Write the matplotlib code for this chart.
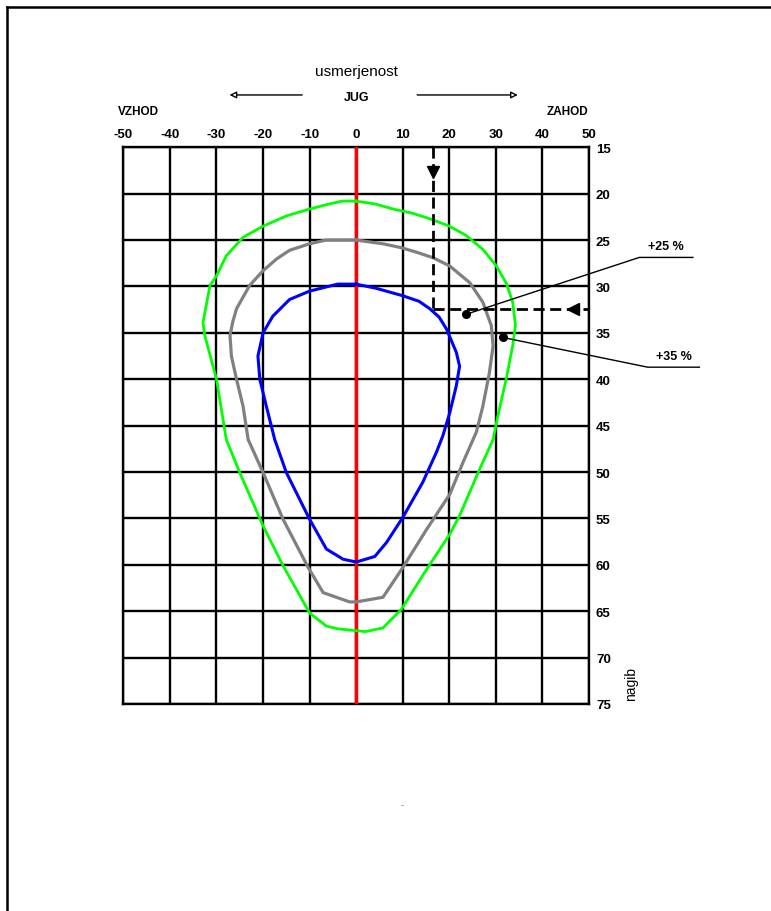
import matplotlib
matplotlib.use("Agg")
import matplotlib.pyplot as plt
from matplotlib.lines import Line2D

plt.rcParams['font.family'] = ['Liberation Sans', 'DejaVu Sans']
plt.rcParams['axes.unicode_minus'] = False

# usmerjenost (x) in nagib (y), odcitano s slike
x_ticks = [-50, -40, -30, -20, -10, 0, 10, 20, 30, 40, 50]
y_ticks = [15, 20, 25, 30, 35, 40, 45, 50, 55, 60, 65, 70, 75]

# zelena krivulja
green_x = [0, 4, 7.9, 12, 15.8, 20, 23.6, 27.2, 30.1, 32.2, 33.6, 34.2, 33.6, 32.2, 30.4, 29.4,
           26.5, 22.2, 20.1, 15.1, 9.7, 5.75, 2, 0, -4, -6.4, -10, -15.7, -20, -25, -27.9,
           -30, -32.5, -32.9, -31.4, -30, -27.9, -24.3, -20, -15, -10, -5.7, -3, 0]
green_y = [20.8, 21.1, 21.65, 22.1, 22.7, 23.5, 24.5, 26.0, 27.8, 29.6, 31.7, 34.2, 36.4, 40, 44, 46.5,
           49.7, 54.7, 56.7, 60.5, 64.8, 66.8, 67.2, 67.1, 66.9, 66.6, 65.2, 60.1, 55.8, 50.06, 46.5,
           40, 35.3, 33.9, 29.9, 28.85, 26.7, 24.7, 23.5, 22.4, 21.65, 21.1, 20.8, 20.8]

# siva krivulja
gray_x = [0, 5.75, 9.5, 12.9, 16.5, 20.1, 24.4, 27.2, 29, 29.4, 28.6, 27.2, 25.8, 22.9, 20.1, 15.1,
          10, 5.75, 0, -1.4, -7.1, -10.3, -15.7, -20, -23.2, -24.3, -25.7, -26.8, -27.1,
          -26.5, -25.7, -22.9, -20, -17, -14.3, -10, -6.5, 0]
gray_y = [25.0, 25.4, 25.8, 26.3, 26.9, 27.8, 29.6, 31.7, 34.2, 36.4, 39.3, 42.9, 45.7, 49.0, 52.4, 56.2,
          60.3, 63.5, 64.0, 64.0, 63.0, 60.3, 55.1, 50.06, 46.5, 42.9, 40, 37.5, 35.3,
          33.8, 32.4, 29.9, 28.3, 27.0, 26.1, 25.4, 25.0, 25.0]

# modra krivulja
blue_x = [0, 4.3, 10, 13.5, 15.8, 17.8, 19.4, 21.5, 22.2, 21.5, 20.1, 18.6, 17.2, 14.3, 10, 6.5, 4, 0,
          -2.8, -6.4, -10, -15, -17.5, -19.3, -20.7, -21.1, -20, -17.9, -14.3, -10, -4, 0]
blue_y = [29.75, 30.2, 31.0, 31.6, 32.4, 33.3, 34.6, 37.1, 38.6, 40.7, 43.6, 46.1, 47.9, 51.1, 54.9, 57.6,
          59.1, 59.7, 59.4, 58.3, 55.1, 50.06, 46.5, 42.9, 40, 37.5, 35.0, 33.2, 31.4, 30.5,
          29.75, 29.75]

# primer odcitka
read_x = 16.5
read_y = 32.45
dot_x = [23.6, 31.5]
dot_y = [33.0, 35.5]
labels = ["+25 %", "+35 %"]
leader_x = [[23.6, 60.8, 72.3], [31.5, 62.6, 73.7]]
leader_y = [[33.0, 26.87, 26.87], [35.5, 38.7, 38.7]]

fig = plt.figure(figsize=(7.71, 9.12), dpi=100)
ax = fig.add_axes([0.16, 0.227, 0.604, 0.6104])

ax.set_xlim(-50, 50)
ax.set_ylim(75, 15)
ax.set_xticks(x_ticks)
ax.set_yticks(y_ticks)
ax.xaxis.tick_top()
ax.yaxis.tick_right()
ax.tick_params(length=0, labelsize=9.5, pad=5)
for lab in ax.get_xticklabels() + ax.get_yticklabels():
    lab.set_fontweight('bold')
ax.grid(True, color='black', lw=1.7)
ax.set_axisbelow(True)
for s in ax.spines.values():
    s.set_linewidth(1.7)

ax.axvline(0, color='#ff0000', lw=2.5, zorder=3)
ax.plot(green_x, green_y, color='#00ff00', lw=2, zorder=4, solid_joinstyle='round')
ax.plot(gray_x, gray_y, color='#808080', lw=2.3, zorder=4, solid_joinstyle='round')
ax.plot(blue_x, blue_y, color='#0000ff', lw=2.2, zorder=4, solid_joinstyle='round')

# crtkane crte in puscice
ax.plot([read_x, read_x], [15, read_y], color='black', lw=2, ls=(0, (4, 2)), zorder=5)
ax.plot([read_x, 50], [read_y, read_y], color='black', lw=2, ls=(0, (4, 2)), zorder=5)
ax.plot([read_x], [17.7], marker='v', color='black', markersize=8, zorder=6)
ax.plot([46.5], [read_y], marker='<', color='black', markersize=8, zorder=6)

ax.plot(dot_x, dot_y, 'o', color='black', markersize=5.5, zorder=6)
for lx, ly, lab in zip(leader_x, leader_y, labels):
    ax.plot(lx, ly, color='black', lw=1, clip_on=False, zorder=6)
    ax.text((lx[1] + lx[2]) / 2, ly[1] - 0.6, lab, ha='center', va='bottom',
            fontsize=9, fontweight='bold')

# napisi nad diagramom
ax.text(0, 6.8, "usmerjenost", ha='center', va='center', fontsize=11)
ax.text(0, 9.6, "JUG", ha='center', va='center', fontsize=9, fontweight='bold')
ax.text(-51.1, 11.1, "VZHOD", ha='left', va='center', fontsize=8.5, fontweight='bold')
ax.text(40.9, 11.1, "ZAHOD", ha='left', va='center', fontsize=8.5, fontweight='bold')
ax.annotate("", xy=(-27.8, 9.36), xytext=(-11, 9.36), annotation_clip=False,
            arrowprops=dict(arrowstyle='-|>', color='black', fc='white', lw=1,
                            mutation_scale=10))
ax.annotate("", xy=(35.3, 9.36), xytext=(12.5, 9.36), annotation_clip=False,
            arrowprops=dict(arrowstyle='-|>', color='black', fc='white', lw=1,
                            mutation_scale=10))
ax.text(59.1, 72.7, "nagib", ha='center', va='center', rotation=90, fontsize=10)

fig.text(403 / 771, 1 - 805 / 912, "...", ha='center', va='center', fontsize=4)

# okvir strani
fig.add_artist(Line2D([7 / 771, 1], [1 - 8 / 912, 1 - 8 / 912], color='black', lw=1.8))
fig.add_artist(Line2D([7 / 771, 7 / 771], [0, 1 - 8 / 912], color='black', lw=1.8))

fig.savefig("out.png", dpi=100)
